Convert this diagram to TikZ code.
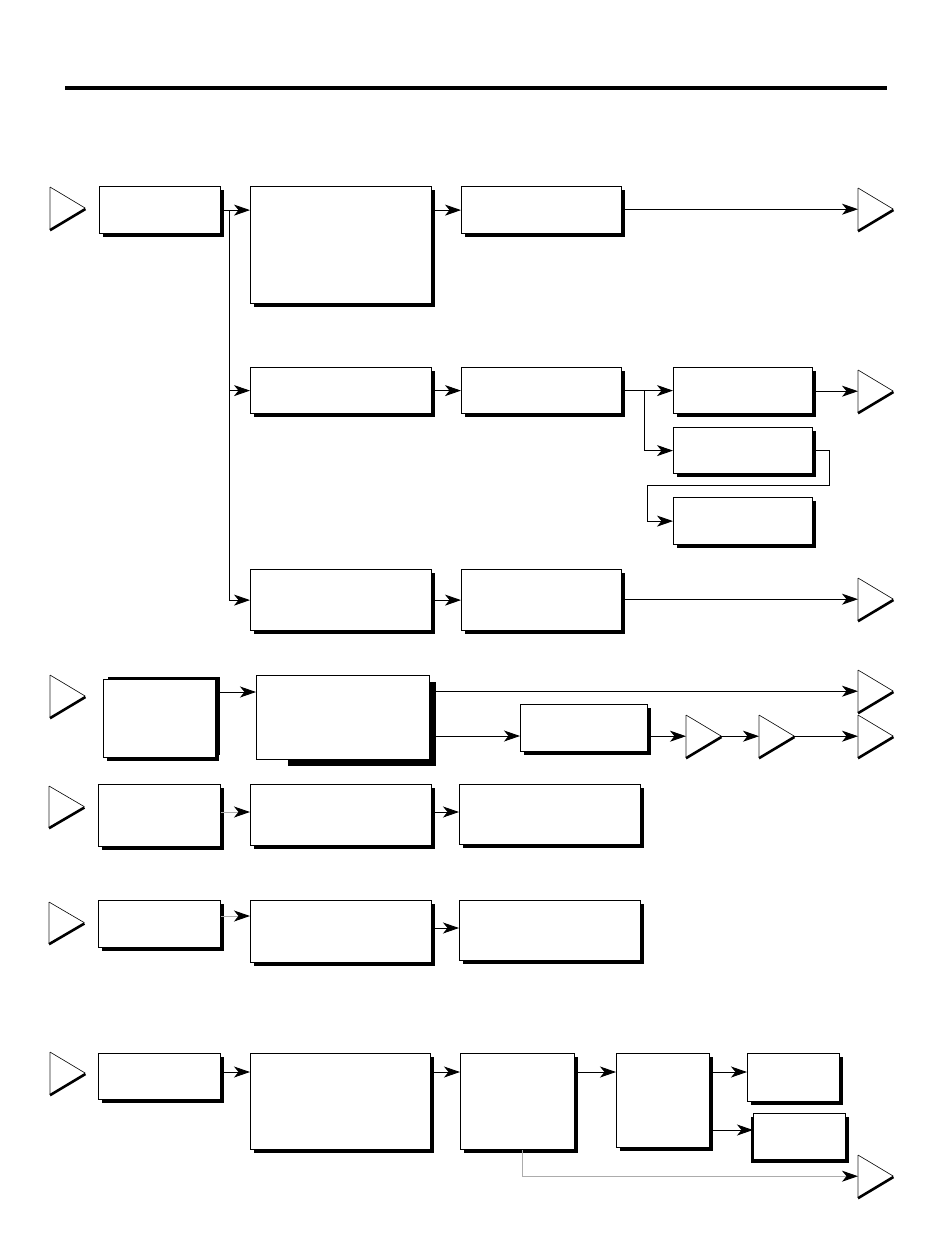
\documentclass[tikz,border=0pt]{standalone}
\usetikzlibrary{arrows.meta,shadows}
\newcommand\mybox[6][]{\node[box,minimum width={(#4-#2)*1pt},minimum height={(#5-#3)*1pt},#1] (#6) at (#2,#3) {};}
\newcommand\mytri[4]{%
  \node[trib,minimum width=35pt,minimum height={(#4-#3)*1pt}] (#1) at (#2,#3) {};
  \fill[white] (#1.north west) -- (#1.east) -- (#1.south west) -- cycle;
  \draw[gray!60,line width=1.3pt] (#1.north west) -- (#1.south west);
  \draw[line width=0.6pt] (#1.north west) -- (#1.east);
  \draw[line width=2.6pt] ([yshift=-0.8pt]#1.east) -- ([yshift=-0.8pt]#1.south west);}
\begin{document}
\begin{tikzpicture}[x=1pt,y=-1pt,
  box/.style={draw=black,fill=white,line width=1.2pt,inner sep=0pt,anchor=north west,
    drop shadow={shadow xshift=3pt,shadow yshift=-3pt,fill=black,opacity=1}},
  trib/.style={inner sep=0pt,anchor=north west},
  arr/.style={line width=0.9pt,-{Stealth[length=16pt,width=11pt,inset=4.5pt]}},
  garr/.style={draw=gray!65,line width=1pt,-{Stealth[length=16pt,width=11pt,inset=4.5pt,color=black]}},
  link/.style={line width=0.9pt}]
\useasboundingbox (0,0) rectangle (950,1256);
\fill[white] (0,0) rectangle (950,1256);
\draw[line width=4pt] (65,88) -- (887,88);

% ---------- row 1 ----------
\mytri{T1}{50}{187}{229}
\mybox{99}{186}{220}{233}{A1}
\mybox{250}{186}{431}{303}{B1}
\mybox{461}{186}{621}{233}{C1}
\mytri{O1}{858}{188}{230}
\mybox{250}{367}{431}{413}{B2}
\mybox{461}{367}{621}{413}{C2}
\mybox{673}{367}{812}{413}{D2a}
\mybox{673}{427}{812}{473}{D2b}
\mybox{673}{497}{812}{544}{D2c}
\mytri{O2}{858}{370}{412}
\mybox{250}{569}{431}{630}{B3}
\mybox{461}{569}{621}{630}{C3}
\mytri{O3}{858}{578}{620}

\coordinate (xv) at (229,0);
\coordinate (j1) at (A1.east -| xv);
\coordinate (j3) at (B3.west -| xv);
\draw[link] (A1.east) -- (j1) -- (j3);
\draw[arr] (j1) -- (B1.west |- j1);
\draw[arr] (B2.west -| xv) -- (B2.west);
\draw[arr] (j3) -- (B3.west);
\draw[arr] (B1.east |- C1.west) -- (C1.west);
\draw[arr] (C1.east |- O1.west) -- (O1.west);
\draw[arr] (B2.east) -- (C2.west);
\draw[arr] (B3.east) -- (C3.west);
\draw[arr] (C3.east |- O3.west) -- (O3.west);
\coordinate (xs) at (644,0);
\draw[arr] (C2.east) -- (D2a.west);
\draw[arr] (C2.east -| xs) |- (D2b.west);
\draw[arr] (D2a.east |- O2.west) -- (O2.west);
\coordinate (k1) at (829,485);
\coordinate (k2) at (647,485);
\draw[arr] (D2b.east) -| (k1) -- (k2) |- (D2c.west);

% ---------- row 2 ----------
\mytri{T2}{50}{675}{717}
\mybox[drop shadow={shadow xshift=4pt,shadow yshift=3pt,fill=black,opacity=1}]{103}{679}{215}{757}{A2}
\node[fill=black,inner sep=0pt,anchor=north west,minimum width=148pt,minimum height=84pt] (B4s) at (288,682) {};
\node[draw=black,fill=white,line width=1.2pt,inner sep=0pt,anchor=north west,minimum width=173pt,minimum height=84pt] (B4) at (256,675) {};
\mybox{520}{704}{647}{751}{E2}
\mytri{P1}{686}{715}{757}
\mytri{P2}{759}{715}{757}
\mytri{O4}{858}{670}{712}
\mytri{O5}{858}{715}{757}
\coordinate (r2a) at (0,692);
\coordinate (r2b) at (0,736);
\draw[arr] (A2.east |- r2a) -- (B4.west |- r2a);
\draw[arr] (B4s.east |- O4.west) -- (O4.west);
\draw[arr] (B4s.east |- r2b) -- (E2.west |- r2b);
\draw[arr] (E2.east |- P1.west) -- (P1.west);
\draw[arr] (P1.east) -- (P2.west);
\draw[arr] (P2.east) -- (O5.west);

% ---------- row 3 ----------
\mytri{T3}{49}{786}{827}
\mybox{98}{784}{220}{846}{A3}
\mybox{250}{784}{431}{845}{B5}
\mybox{459}{784}{640}{844}{C5}
\coordinate (r3) at (0,812);
\draw[garr] (A3.east |- r3) -- (B5.west |- r3);
\draw[arr] (B5.east |- r3) -- (C5.west |- r3);

% ---------- row 4 ----------
\mytri{T4}{49}{902}{943}
\mybox{98}{900}{220}{947}{A4}
\mybox{250}{900}{431}{962}{B6}
\mybox{459}{900}{640}{960}{C6}
\coordinate (r4a) at (0,916);
\coordinate (r4b) at (0,928);
\draw[garr] (A4.east |- r4a) -- (B6.west |- r4a);
\draw[arr] (B6.east |- r4b) -- (C6.west |- r4b);

% ---------- row 5 ----------
\mytri{T5}{50}{1052}{1094}
\mybox{98}{1053}{220}{1099}{A5}
\mybox{250}{1053}{430}{1149}{B7}
\mybox{460}{1053}{574}{1149}{C7}
\mybox{616}{1053}{709}{1147}{D7}
\mybox{747}{1053}{839}{1101}{E7a}
\mybox[drop shadow={shadow xshift=-3pt,shadow yshift=-3pt,fill=black,opacity=1}]{753}{1113}{845}{1159}{E7b}
\mytri{O6}{858}{1155}{1197}
\coordinate (r5) at (0,1072);
\coordinate (r5b) at (0,1130);
\coordinate (xc) at (522,0);
\draw[arr] (A5.east |- r5) -- (B7.west |- r5);
\draw[arr] (B7.east |- r5) -- (C7.west |- r5);
\draw[arr] (C7.east |- r5) -- (D7.west |- r5);
\draw[arr] (D7.east |- r5) -- (E7a.west |- r5);
\draw[arr] (D7.east |- r5b) -- (E7b.west |- r5b);
\draw[garr] (C7.south -| xc) |- (O6.west);
\end{tikzpicture}
\end{document}
